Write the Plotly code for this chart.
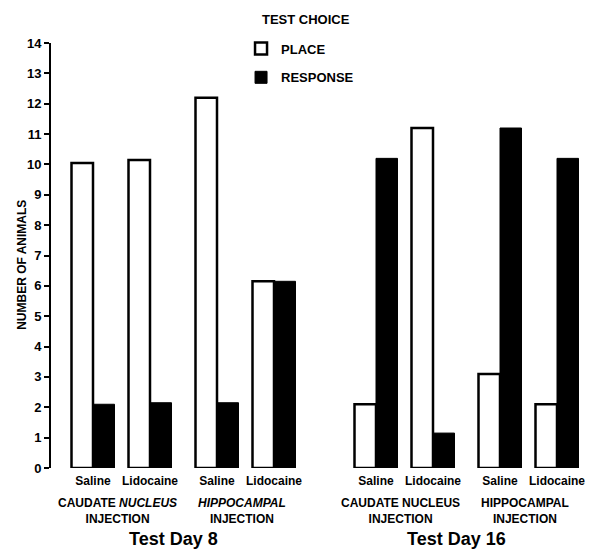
import plotly.graph_objects as go

# ---- data ----
days = ["Test Day 8", "Test Day 16"]
injections = ["CAUDATE NUCLEUS", "HIPPOCAMPAL"]
drugs = ["Saline", "Lidocaine"]
place_day8 = [10.05, 10.15, 12.2, 6.15]
response_day8 = [2.1, 2.15, 2.15, 6.15]
place_day16 = [2.1, 11.2, 3.1, 2.1]
response_day16 = [10.2, 1.15, 11.2, 10.2]
y_ticks = list(range(0, 15))

# ---- layout constants (x positions in axis units) ----
START, DRUG_GAP, INJ_GAP, DAY_GAP = 42, 57, 124, 283
BW = 21.5
FONT = "Liberation Sans"
# the page body adds an 8px margin, so the figure is 8px smaller each way
W, H = 587, 542
ML, MR, MT, MB = 43, 5, 35, 82
PW, PH = W - ML - MR, H - MT - MB

xs, tick_text = [], []
for d in range(len(days)):
    for i in range(len(injections)):
        for k, drug in enumerate(drugs):
            xs.append(START + d * DAY_GAP + i * INJ_GAP + k * DRUG_GAP)
            tick_text.append(drug)

place = place_day8 + place_day16
response = response_day8 + response_day16

fig = go.Figure()
fig.add_trace(go.Bar(
    x=xs, y=place, name="PLACE", offset=-BW, width=BW,
    marker=dict(color="white", line=dict(color="black", width=2.5)),
    cliponaxis=False, legendgroup="p",
))
fig.add_trace(go.Bar(
    x=xs, y=response, name="RESPONSE", offset=0, width=BW,
    marker=dict(color="black", line=dict(color="black", width=1)),
    cliponaxis=False, legendgroup="r",
))

annotations = []
for d, day in enumerate(days):
    for i, inj in enumerate(injections):
        x0 = START + d * DAY_GAP + i * INJ_GAP
        label = inj
        if d == 0:
            if inj.startswith("CAUDATE"):
                label = "CAUDATE <i>NUCLEUS</i>"
            else:
                label = "<i>" + inj + "</i>"
        annotations.append(dict(
            x=x0 + DRUG_GAP / 2 - 4, y=-0.062, xref="x", yref="paper",
            text=label + "<br>INJECTION", showarrow=False, yanchor="top",
            font=dict(family=FONT, size=12, color="black", weight="bold"),
        ))
    x_day = START + d * DAY_GAP + (INJ_GAP + DRUG_GAP) / 2 - 10
    annotations.append(dict(
        x=x_day, y=-0.195, xref="x", yref="paper", text=day,
        showarrow=False, yanchor="bottom",
        font=dict(family=FONT, size=18, color="black", weight="bold"),
    ))
# legend heading
annotations.append(dict(
    x=(298 - ML) / PW, y=(H - MB - 12) / PH, xref="paper", yref="paper",
    text="TEST CHOICE", showarrow=False, xanchor="center", yanchor="middle",
    font=dict(family=FONT, size=13, color="black", weight="bold"),
))
# y-axis title
annotations.append(dict(
    x=(14 - ML) / PW, y=0.478, xref="paper", yref="paper",
    text="NUMBER OF ANIMALS", textangle=-90, showarrow=False,
    xanchor="center", yanchor="middle",
    font=dict(family=FONT, size=12, color="black", weight="bold"),
))

fig.update_layout(
    width=W, height=H,
    margin=dict(l=ML, r=MR, t=MT, b=MB, autoexpand=False),
    paper_bgcolor="white", plot_bgcolor="white",
    barmode="overlay",
    font=dict(family=FONT, color="black"),
    showlegend=True,
    legend=dict(
        font=dict(family=FONT, size=13, weight="bold"),
        xref="container", yref="container",
        x=0.397, y=0.953, xanchor="left", yanchor="top",
        traceorder="grouped", tracegroupgap=9,
        bgcolor="rgba(0,0,0,0)",
    ),
    xaxis=dict(
        range=[0, 539], tickmode="array", tickvals=xs, ticktext=tick_text,
        showline=False, showgrid=False, zeroline=False, ticks="",
        ticklabelstandoff=4,
        tickfont=dict(family=FONT, size=12, color="black", weight="bold"),
    ),
    yaxis=dict(
        range=[0, 14], tickmode="array", tickvals=y_ticks,
        showline=True, linecolor="black", linewidth=2,
        ticks="outside", ticklen=5, tickwidth=2, tickcolor="black",
        showgrid=False, zeroline=False,
        tickfont=dict(family=FONT, size=13, color="black", weight="bold"),
    ),
    annotations=annotations,
)

fig.write_html("out.html")
